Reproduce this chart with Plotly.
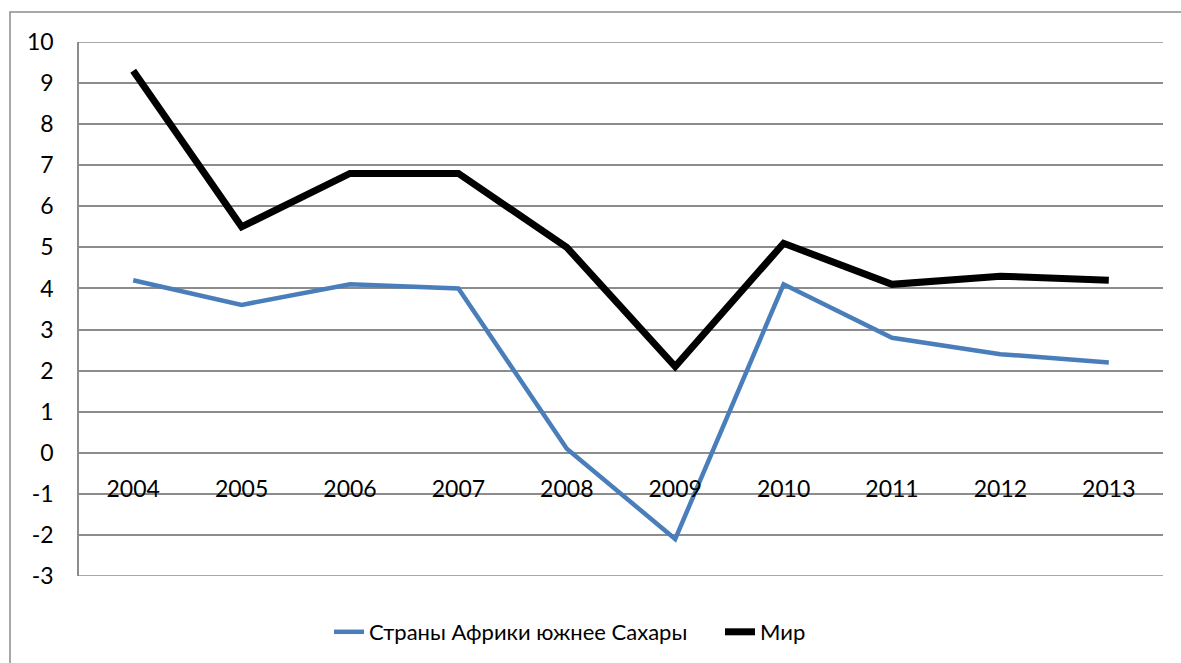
import plotly.graph_objects as go

years = ["2004", "2005", "2006", "2007", "2008", "2009", "2010", "2011", "2012", "2013"]
africa = [4.2, 3.6, 4.1, 4.0, 0.1, -2.1, 4.1, 2.8, 2.4, 2.2]
world = [9.3, 5.5, 6.8, 6.8, 5.0, 2.1, 5.1, 4.1, 4.3, 4.2]
y_ticks = list(range(-3, 11))
y_labels = [str(v) for v in y_ticks]

FONT = "Lato"
GRID = "#8c8c8c"

fig = go.Figure()
fig.add_trace(go.Scatter(x=years, y=africa, mode="lines", name="Страны Африки южнее Сахары",
                         line=dict(color="#4a7ebb", width=4.5)))
fig.add_trace(go.Scatter(x=years, y=world, mode="lines", name="Мир",
                         line=dict(color="#000000", width=7)))

W, H = 1181, 663
L, R, T, B = 79, 18, 42, 87
pw, ph = W - L - R, H - T - B

def px_x(p):
    return (p - L) / pw

def px_y(p):
    return (H - B - p) / ph

fig.update_layout(
    width=W, height=H,
    margin=dict(l=L, r=R, t=T, b=B, autoexpand=False),
    paper_bgcolor="white", plot_bgcolor="white",
    font=dict(family=FONT, size=22, color="#000000"),
    showlegend=True,
    legend=dict(orientation="h", x=px_x(329), y=px_y(632), xanchor="left", yanchor="middle",
                font=dict(size=22), itemwidth=30, entrywidth=346, entrywidthmode="pixels",
                bgcolor="rgba(0,0,0,0)"),
    xaxis=dict(type="category", range=[-0.5, 9.5], anchor="free", position=3 / 13,
               showgrid=False, zeroline=False, showline=False, ticks="",
               tickfont=dict(size=23), ticklabelstandoff=20),
    yaxis=dict(range=[-3, 10], tickvals=y_ticks, ticktext=y_labels,
               showgrid=True, gridcolor=GRID, gridwidth=1.5,
               zeroline=False, showline=True, linecolor=GRID, linewidth=1.5, ticks="",
               tickfont=dict(size=23), ticklabelstandoff=19),
)

# edge gridlines (plotly skips gridlines at the exact range ends)
for yv in (y_ticks[0], y_ticks[-1]):
    fig.add_shape(type="line", xref="paper", yref="y", x0=0, x1=1, y0=yv, y1=yv,
                  line=dict(color=GRID, width=1.5), layer="below")

fig.add_shape(type="rect", xref="paper", yref="paper",
              x0=px_x(10), y0=px_y(680), x1=px_x(1200), y1=px_y(12),
              line=dict(color=GRID, width=1.5), fillcolor="rgba(0,0,0,0)", layer="below")

fig.write_html("out.html", config={"displayModeBar": False},
               post_script="document.body.style.margin='0';document.body.style.overflow='hidden';")
